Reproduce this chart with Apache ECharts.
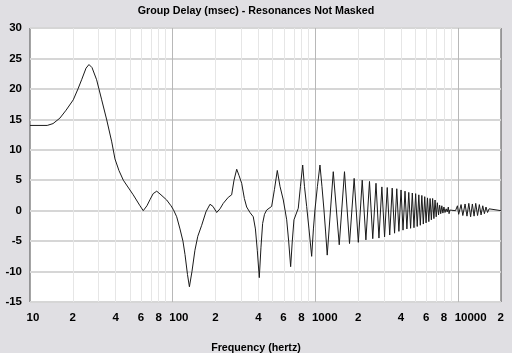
<!DOCTYPE html>
<html>
<head>
<meta charset="utf-8">
<script src="https://cdn.jsdelivr.net/npm/echarts@6/dist/echarts.min.js"></script>
<style>
html, body { margin: 0; padding: 0; background: #e0dfe3; }
#main { width: 512px; height: 353px; }
</style>
</head>
<body>
<div id="main"></div>
<script>
// frequency (Hz) and group delay (msec)
var freqHz = [
    10, 13.2, 14.5, 16.2, 17.9, 20.1, 21.7, 23.0, 24.7, 25.9, 27.2, 29.3, 31.8, 34.5, 37.4, 39.4, 42, 45.1,
    52.9, 59, 62.2, 66, 69.3, 73, 77.3, 82.8, 90.8, 97.3, 101, 106.7, 112.5, 118, 122, 127, 131, 136.5,
    143.2, 150, 159.7, 171, 182.6, 191.6, 203.4, 214.5, 226.2, 245.3, 259, 269, 281, 291.5, 304.5, 318,
    330, 348, 367, 380, 391.7, 404.6, 415.7, 427, 440, 455.7, 494, 516.8, 541, 565, 596, 629.6, 650, 671,
    689, 708, 759, 786, 815, 838.6, 869, 902, 942, 969, 993, 1034, 1077, 1112, 1149, 1180, 1211,
    1335, 1470, 1600, 1735, 1870, 2000, 2130, 2260, 2395, 2525, 2660, 2790, 2925, 3055, 3190, 3320,
    3455, 3590, 3720, 3850, 3985, 4115, 4250, 4380, 4515, 4650, 4780, 4910, 5045, 5175, 5310, 5440,
    5575, 5710, 5840, 5970, 6105, 6240, 6370, 6500, 6635, 6770, 6900, 7030, 7165, 7300, 7430, 7560,
    7695, 7830, 7960, 8100, 8250, 8400, 8550, 8650, 8750, 9600, 9900, 10100, 10500, 10800, 11200,
    11550, 11900, 12250, 12600, 12950, 13300, 13700, 14100, 14500, 14900, 15300, 15700, 16100, 16500,
    17000, 20000
];
var delayMs = [
    14.0, 14.0, 14.3, 15.2, 16.5, 18.2, 20.0, 21.5, 23.4, 24.0, 23.5, 21.5, 18.2, 14.9, 11.3, 8.5, 6.6, 5.0,
    2.6, 0.8, 0.0, 0.8, 1.8, 2.8, 3.2, 2.6, 1.75, 0.8, 0.2, -1.0, -3.0, -5.0, -7.2, -10.5, -12.5, -10.0,
    -6.5, -4.2, -2.4, -0.2, 1.05, 0.7, -0.3, 0.3, 1.2, 2.2, 2.6, 5.0, 6.8, 5.8, 4.5, 2.0,
    0.6, -0.3, -1.0, -3.0, -6.5, -11.0, -6.0, -2.1, -0.6, 0.1, 0.7, 3.5, 6.6, 4.0, 1.75, -1.5, -5.0, -9.2,
    -5.0, -1.5, 0.4, 4.0, 7.5, 4.0, 0.7, -3.0, -7.5, -3.0, 0.1, 4.0, 7.5, 4.0, 0.1, -3.5, -7.3,
    6.4, -5.6, 6.4, -5.4, 5.3, -5.2, 5.0, -4.8, 4.8, -4.6, 4.5, -4.5, 3.9, -4.3, 3.8, -4.0,
    3.7, -3.7, 3.6, -3.4, 3.4, -3.2, 3.2, -3.0, 3.0, -2.9, 2.9, -2.8, 2.8, -2.6, 2.6, -2.4,
    2.5, -2.2, 2.3, -2.0, 2.1, -1.8, 2.0, -1.5, 2.0, -1.3, 1.75, -1.0, 1.3, -0.7, 0.9, -0.5,
    0.8, -0.4, 0.6, -0.3, 0.3, -0.2, 0.6, -0.5, 0.1, 0.0, 0.8, -0.6, 1.0, -0.8, 1.1,
    -0.9, 1.2, -1.0, 1.1, -0.9, 1.2, -0.8, 1.0, -0.7, 0.8, -0.5, 0.6, -0.3, 0.3,
    0.0, 0.0
];
var xLabelFreqs = [10, 20, 40, 60, 80, 100, 200, 400, 600, 800, 1000, 2000, 4000, 6000, 8000, 10000, 20000];
var minorGridFreqs = [20, 30, 40, 50, 60, 70, 80, 90, 200, 300, 400, 500, 600, 700, 800, 900,
    2000, 3000, 4000, 5000, 6000, 7000, 8000, 9000];
var majorGridFreqs = [100, 1000, 10000];

function toLog(list) {
    var res = [];
    for (var i = 0; i < list.length; i++) {
        res.push(Math.log10(list[i]));
    }
    return res;
}

function curveData() {
    var res = [];
    for (var i = 0; i < freqHz.length; i++) {
        res.push([Math.log10(freqHz[i]), delayMs[i]]);
    }
    return res;
}

function gridLines(list) {
    var res = [];
    for (var i = 0; i < list.length; i++) {
        res.push({ xAxis: Math.log10(list[i]) });
    }
    return res;
}

var labelFont = {
    fontFamily: 'Liberation Sans',
    fontWeight: 'bold',
    fontSize: 10.7,
    color: '#000'
};

var myChart = echarts.init(document.getElementById('main'));

var option = {
    backgroundColor: '#e0dfe3',
    animation: false,
    title: [{
        text: 'Group Delay (msec) - Resonances Not Masked',
        left: 251,
        top: 1,
        textAlign: 'center',
        textStyle: labelFont
    }, {
        text: 'Frequency (hertz)',
        left: 251,
        top: 338,
        textAlign: 'center',
        textStyle: labelFont
    }],
    grid: {
        left: 30,
        right: 11,
        top: 28,
        bottom: 51,
        show: true,
        backgroundColor: '#fff',
        borderColor: '#4a4a4a',
        borderWidth: 1
    },
    xAxis: {
        type: 'value',
        min: 1,
        max: Math.log10(20000),
        axisLine: { show: false },
        axisTick: { show: false },
        splitLine: { show: false },
        axisLabel: {
            customValues: toLog(xLabelFreqs),
            margin: 10,
            align: 'left',
            padding: [0, 0, 0, -3.4],
            fontFamily: 'Liberation Sans',
            fontWeight: 'bold',
            fontSize: 11.5,
            color: '#000',
            formatter: function(v) {
                var f = Math.round(Math.pow(10, v));
                var p = Math.pow(10, Math.floor(Math.log10(f) + 1e-9));
                if (f == p) {
                    return String(f);
                }
                return String(Math.round(f / p));
            }
        }
    },
    yAxis: {
        type: 'value',
        min: -15,
        max: 30,
        interval: 5,
        axisLine: { show: false },
        axisTick: { show: false },
        axisLabel: {
            margin: 8,
            fontFamily: 'Liberation Sans',
            fontWeight: 'bold',
            fontSize: 11.5,
            color: '#000'
        },
        splitLine: {
            lineStyle: { color: '#d6d6d6', width: 2 }
        }
    },
    series: [{
        type: 'line',
        data: [],
        z: 1,
        silent: true,
        markLine: {
            z: 1,
            silent: true,
            symbol: ['none', 'none'],
            label: { show: false },
            lineStyle: { color: '#e6e6e6', width: 1, type: 'solid' },
            data: gridLines(minorGridFreqs)
        }
    }, {
        type: 'line',
        data: [],
        z: 1,
        silent: true,
        markLine: {
            z: 1,
            silent: true,
            symbol: ['none', 'none'],
            label: { show: false },
            lineStyle: { color: '#b8b8b8', width: 1, type: 'solid' },
            data: gridLines(majorGridFreqs)
        }
    }, {
        name: 'Group Delay',
        type: 'line',
        z: 10,
        data: curveData(),
        showSymbol: false,
        lineStyle: { color: '#1a1a1a', width: 1 }
    }]
};

myChart.setOption(option);
</script>
</body>
</html>
